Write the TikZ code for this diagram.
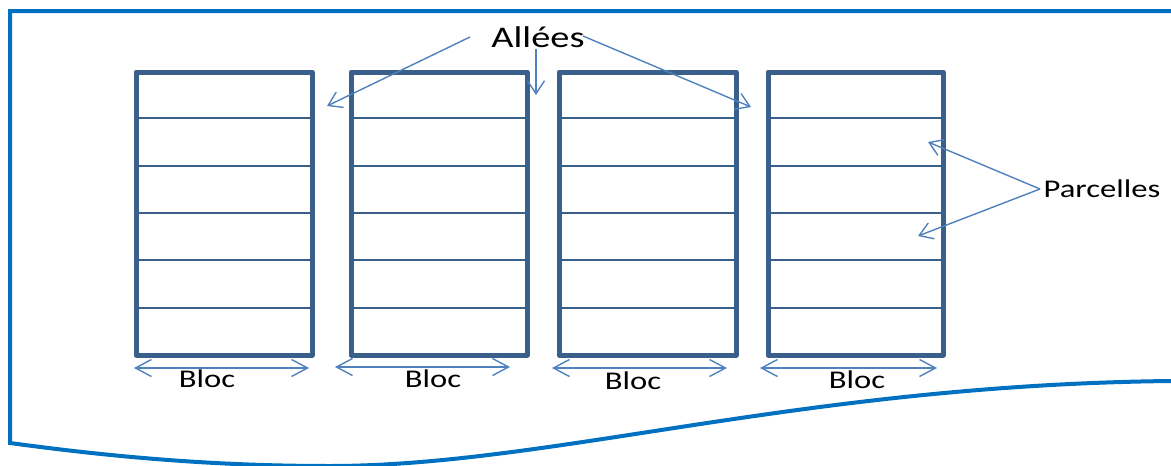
\documentclass[tikz,border=0pt]{standalone}
\usepackage{fontspec}
\setmainfont{Carlito}[FakeStretch=1.28]
\usetikzlibrary{arrows.meta}
\definecolor{frameblue}{HTML}{0070C0}
\definecolor{blockblue}{HTML}{3A5F8B}
\definecolor{arrowblue}{HTML}{4F81BD}
\tikzset{
  frameline/.style={draw=frameblue,line width=4pt},
  blockedge/.style={draw=blockblue,line width=5pt,line join=round},
  rowline/.style={draw=blockblue,line width=2pt},
  pointer/.style={draw=arrowblue,line width=1.4pt,-{Straight Barb[length=13pt,width=17pt,line width=1.4pt]}},
  span/.style={draw=arrowblue,line width=1.4pt,{Straight Barb[length=16pt,width=17pt,line width=1.4pt]}-{Straight Barb[length=16pt,width=17pt,line width=1.4pt]}},
  lbl/.style={inner sep=0pt,anchor=base,text=black},
}
\begin{document}
\begin{tikzpicture}[x=1pt,y=-1pt]
\useasboundingbox (0,0) rectangle (1171,466);
% outer frame
\draw[frameline] (1171,11) -- (10,11) -- (10,443)
  .. controls (120,458) and (220,466) .. (330,466)
  .. controls (550,466) and (800,385) .. (1171,381);
% blocks
\foreach \l/\r [count=\i] in {136/312, 351/527, 559/736, 768/943}{
  \foreach \y in {118,166,213,260,308}{
    \draw[rowline] (\l,\y) -- (\r,\y);
  }
  \draw[blockedge] (\l,72) rectangle (\r,355);
}
% labels
\node[lbl,font=\fontsize{30}{32}\selectfont] (allees) at (538,47) {Allées};
\node[lbl,font=\fontsize{25.5}{28}\selectfont] (parc) at (1102,197) {Parcelles};
\node[lbl,font=\fontsize{25.5}{28}\selectfont] (bloc1) at (207,387) {Bloc};
\node[lbl,font=\fontsize{25.5}{28}\selectfont] (bloc2) at (433,387) {Bloc};
\node[lbl,font=\fontsize{25.5}{28}\selectfont] (bloc3) at (633,389) {Bloc};
\node[lbl,font=\fontsize{25.5}{28}\selectfont] (bloc4) at (857,388) {Bloc};
% pointer coordinates
\coordinate (a1s) at (470,37);
\coordinate (a1e) at (327,106);
\coordinate (a2s) at (536,49);
\coordinate (a2e) at (536,95);
\coordinate (a3s) at (583,36);
\coordinate (a3e) at (751,107);
\coordinate (ps) at (1040,189);
\coordinate (p1e) at (928,142);
\coordinate (p2e) at (918,236);
\draw[pointer] (a1s) -- (a1e);
\draw[pointer] (a2s) -- (a2e);
\draw[pointer] (a3s) -- (a3e);
\draw[pointer] (ps) -- (p1e);
\draw[pointer] (ps) -- (p2e);
% bloc spans
\coordinate (b1l) at (134,368); \coordinate (b1r) at (309,368);
\coordinate (b2l) at (335,367); \coordinate (b2r) at (510,367);
\coordinate (b3l) at (552,368); \coordinate (b3r) at (727,368);
\coordinate (b4l) at (760,368); \coordinate (b4r) at (937,368);
\draw[span] (b1l) -- (b1r);
\draw[span] (b2l) -- (b2r);
\draw[span] (b3l) -- (b3r);
\draw[span] (b4l) -- (b4r);
\end{tikzpicture}
\end{document}
